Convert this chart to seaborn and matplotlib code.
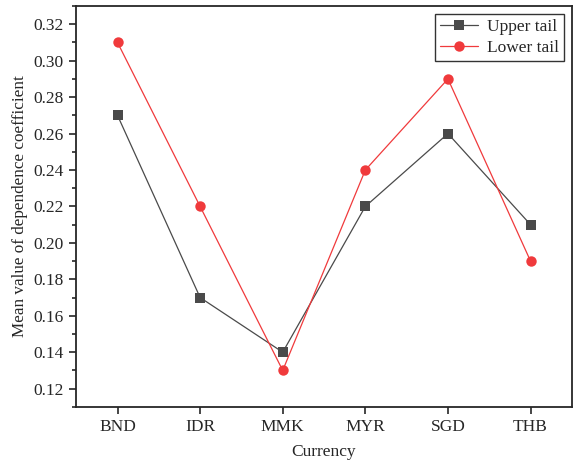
import numpy as np
import pandas as pd
import matplotlib
matplotlib.use('Agg')
import matplotlib.pyplot as plt
import seaborn as sns

currencies = ["BND", "IDR", "MMK", "MYR", "SGD", "THB"]
upper_tail = [0.27, 0.17, 0.14, 0.22, 0.26, 0.21]
lower_tail = [0.31, 0.22, 0.13, 0.24, 0.29, 0.19]

sns.set_style('ticks')
plt.rcParams['font.family'] = ['Liberation Serif', 'DejaVu Serif']

df = pd.DataFrame({
    'Currency': currencies * 2,
    'value': upper_tail + lower_tail,
    'series': ['Upper tail'] * len(currencies) + ['Lower tail'] * len(currencies),
})
df['pos'] = df['Currency'].map({c: i for i, c in enumerate(currencies)})

fig, ax = plt.subplots(figsize=(5.73, 4.65), dpi=100)
sns.lineplot(data=df, x='pos', y='value', hue='series', style='series',
             palette={'Upper tail': '#4a4a4a', 'Lower tail': '#f03a3c'},
             markers={'Upper tail': 's', 'Lower tail': 'o'}, dashes=False,
             markersize=7.5, markeredgewidth=0, linewidth=0.9, sort=False, ax=ax)

ax.set_xlim(-0.5, 5.5)
ax.set_ylim(0.11, 0.33)
ax.set_xticks(range(len(currencies)))
ax.set_xticklabels(currencies)
ax.set_yticks(np.arange(0.12, 0.321, 0.02))
ax.set_yticks(np.arange(0.11, 0.33, 0.01), minor=True)
ax.yaxis.set_major_formatter(matplotlib.ticker.FormatStrFormatter('%.2f'))
ax.tick_params(axis='both', which='major', direction='out', length=5, width=1.2,
               labelsize=12.5, pad=4)
ax.tick_params(axis='y', which='minor', direction='out', length=3, width=1.2)
for s in ax.spines.values():
    s.set_linewidth(1.3)
    s.set_visible(True)

ax.set_xlabel('Currency', fontsize=12.5, labelpad=6)
ax.set_ylabel('Mean value of dependence coefficient', fontsize=12.3)

leg = ax.legend(loc='upper right', fontsize=12.5, frameon=True, fancybox=False,
                edgecolor='black', borderpad=0.3, handlelength=2.2, labelspacing=0.25,
                handletextpad=0.5, borderaxespad=0.45)
leg.get_frame().set_linewidth(1.0)

fig.subplots_adjust(left=0.133, right=0.998, top=0.987, bottom=0.125)
plt.savefig('out.png', dpi=100)
plt.close()
